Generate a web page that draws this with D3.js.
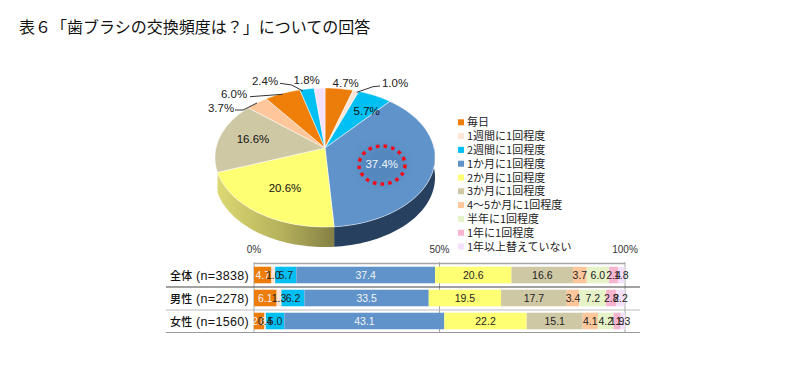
<!DOCTYPE html>
<html lang="ja">
<head>
<meta charset="utf-8">
<script src="https://d3js.org/d3.v7.min.js"></script>
<style>
  body { margin: 0; background: #fff; }
  svg { display: block; }
  text { font-family: "Liberation Sans", "Noto Sans CJK JP", sans-serif; }
  .jp { font-family: "Noto Sans CJK JP", sans-serif; }
</style>
</head>
<body>
<svg width="810" height="383"></svg>
<script>
var titleText = '表６「歯ブラシの交換頻度は？」についての回答';
var categories = ['毎日', '1週間に1回程度', '2週間に1回程度', '1か月に1回程度', '2か月に1回程度',
  '3か月に1回程度', '4～5か月に1回程度', '半年に1回程度', '1年に1回程度', '1年以上替えていない'];
var legendColors = ['#ed7d0a', '#fde6d8', '#00bff3', '#5f93c9', '#ffff73', '#cfc8a5', '#fdc79b', '#e6f3c8', '#f9b4cf', '#f5e0fb'];
var pieValues = [4.7, 1.0, 5.7, 37.4, 20.6, 16.6, 3.7, 6.0, 2.4, 1.8];
var pieColors = ['#ed7d0a', '#fde6d8', '#00bff3', '#5f93c9', '#ffff73', '#cfc8a5', '#fdc79b', '#f07f0a', '#00bff3', '#f5e0fb'];
var rowNames = ['全体', '男性', '女性'];
var rowCounts = ['(n=3838)', '(n=2278)', '(n=1560)'];
var allValues = [4.7, 1.0, 5.7, 37.4, 20.6, 16.6, 3.7, 6.0, 2.4, 1.8];
var maleValues = [6.1, 1.3, 6.2, 33.5, 19.5, 17.7, 3.4, 7.2, 2.8, 2.2];
var femaleValues = [2.8, 0.4, 5.0, 43.1, 22.2, 15.1, 4.1, 4.2, 1.9, 1.3];
var rows = [allValues, maleValues, femaleValues];
var axisTicks = [0, 50, 100];

var svg = d3.select('svg');

svg.append('text').attr('class', 'jp')
  .attr('x', 19).attr('y', 33)
  .attr('font-size', 16).attr('fill', '#111')
  .text(titleText);

// pie, tilted: angles come from d3.pie, then a small perspective map onto the ellipse
var cx = 325, cy = 148, a = 109, b = 68.2, k = 0.1367, depth = 20;
function project(t) {
  var u = Math.sin(t), v = -Math.cos(t), w = 1 - k * v;
  return [cx + a * u / w, cy + b * v / w];
}
function rim(t0, t1) {
  var n = Math.max(2, Math.ceil((t1 - t0) / 0.03));
  return d3.range(n + 1).map(function(i) { return project(t0 + (t1 - t0) * i / n); });
}
var line = d3.line();
var arcs = d3.pie().sort(null)(pieValues);

var defs = svg.append('defs');
var yellowSide = defs.append('linearGradient').attr('id', 'yellowSide');
yellowSide.append('stop').attr('offset', '0%').attr('stop-color', '#dcd873');
yellowSide.append('stop').attr('offset', '55%').attr('stop-color', '#b5b15c');
yellowSide.append('stop').attr('offset', '100%').attr('stop-color', '#858044');
var blurGlow = defs.append('filter').attr('id', 'glow').attr('x', '-30%').attr('y', '-30%').attr('width', '160%').attr('height', '160%');
blurGlow.append('feGaussianBlur').attr('stdDeviation', 4);

// side wall for the blue and yellow slices, the only ones that show on the front
var sides = [[arcs[3], '#27405f'], [arcs[4], 'url(#yellowSide)']];
sides.forEach(function(s) {
  var t0 = Math.max(s[0].startAngle, Math.PI / 2);
  var t1 = Math.min(s[0].endAngle, Math.PI * 1.5);
  var top = rim(t0, t1);
  var low = top.slice().reverse().map(function(p) { return [p[0], p[1] + depth]; });
  svg.append('path')
    .attr('d', line(top.concat(low)) + 'Z')
    .attr('fill', s[1]);
});

svg.append('g').selectAll('path').data(arcs).enter().append('path')
  .attr('d', function(d) {
    return line([[cx, cy]].concat(rim(d.startAngle, d.endAngle))) + 'Z';
  })
  .attr('fill', function(d, i) { return pieColors[i]; })
  .attr('stroke', '#fff').attr('stroke-width', 0.5);

svg.append('ellipse')
  .attr('cx', 382).attr('cy', 165).attr('rx', 23).attr('ry', 19)
  .attr('fill', '#4f82b8').attr('opacity', 0.7).attr('filter', 'url(#glow)');
svg.append('ellipse')
  .attr('cx', 382).attr('cy', 165).attr('rx', 23).attr('ry', 19)
  .attr('fill', 'none').attr('stroke', '#f00d1c').attr('stroke-width', 3.5)
  .attr('stroke-dasharray', '3.5 4.2');

// pie labels and leaders
var pieLabelPos = [[345.7, 87, '#222'], [395, 87, '#222'], [366.7, 115, '#111'], [381.7, 168, '#eef3fa'],
  [285, 192, '#111'], [253, 143, '#111'], [221, 112, '#222'], [234, 98, '#222'], [265, 85, '#222'], [306.7, 84, '#222']];
svg.append('g').selectAll('text').data(pieValues).enter().append('text')
  .attr('x', function(d, i) { return pieLabelPos[i][0]; })
  .attr('y', function(d, i) { return pieLabelPos[i][1]; })
  .attr('text-anchor', 'middle')
  .attr('font-size', 11.5)
  .attr('fill', function(d, i) { return pieLabelPos[i][2]; })
  .text(function(d) { return d.toFixed(1) + '%'; });

var leaders = [
  [[356.7, 92.3], [373, 86.7], [380, 86]],
  [[235, 110], [243, 110], [257, 103]],
  [[250, 96.7], [282.7, 94.3]],
  [[280, 83.3], [291.7, 85], [303, 91]]
];
svg.append('g').selectAll('path').data(leaders).enter().append('path')
  .attr('d', function(d) { return line(d); })
  .attr('fill', 'none').attr('stroke', '#333').attr('stroke-width', 1);

// legend
var legend = svg.append('g').selectAll('g').data(categories).enter().append('g')
  .attr('transform', function(d, i) { return 'translate(458,' + (122.3 + i * 13.8) + ')'; });
legend.append('rect')
  .attr('x', 0).attr('y', -3).attr('width', 6).attr('height', 6)
  .attr('fill', function(d, i) { return legendColors[i]; });
legend.append('text').attr('class', 'jp')
  .attr('x', 9).attr('y', 4)
  .attr('font-size', 11).attr('fill', '#222')
  .text(function(d) { return d; });

// stacked bars
var x = d3.scaleLinear().domain([0, 100]).range([254, 625]);
var y = d3.scaleBand().domain(rowNames).range([263.5, 332.5]).paddingInner(0.28).paddingOuter(0.14);

svg.append('g').selectAll('line').data(axisTicks).enter().append('line')
  .attr('x1', function(d) { return x(d); }).attr('x2', function(d) { return x(d); })
  .attr('y1', 262).attr('y2', 333)
  .attr('stroke', '#a6a6a6').attr('stroke-width', 1);
svg.append('line').attr('x1', x(0)).attr('x2', x(100)).attr('y1', 263.5).attr('y2', 263.5)
  .attr('stroke', '#a6a6a6').attr('stroke-width', 1.4);

svg.append('g').selectAll('text').data(axisTicks).enter().append('text')
  .attr('x', function(d) { return x(d); }).attr('y', 253)
  .attr('text-anchor', 'middle').attr('font-size', 10).attr('fill', '#333')
  .text(function(d) { return d + '%'; });

rows.forEach(function(vals, r) {
  var stack = 0;
  var g = svg.append('g');
  vals.forEach(function(v, i) {
    var x0 = x(stack), x1 = x(stack + v);
    stack += v;
    g.append('rect')
      .attr('x', x0).attr('width', x1 - x0)
      .attr('y', y(rowNames[r])).attr('height', y.bandwidth())
      .attr('fill', legendColors[i]);
  });
  stack = 0;
  vals.forEach(function(v, i) {
    var mid = x(stack + v / 2);
    stack += v;
    g.append('text')
      .attr('x', mid).attr('y', y(rowNames[r]) + y.bandwidth() / 2 + 4)
      .attr('text-anchor', 'middle').attr('font-size', 10.5)
      .attr('fill', (i === 0 || i === 3) ? '#f1f4f8' : '#222')
      .text(v.toFixed(1));
  });
});

var rowText = svg.append('g').selectAll('text').data(rowNames).enter().append('text')
  .attr('x', 170).attr('y', function(d) { return y(d) + y.bandwidth() / 2 + 4.5; })
  .attr('fill', '#111');
rowText.append('tspan').attr('class', 'jp')
  .attr('font-size', 11).attr('font-weight', 500).attr('letter-spacing', 0.3)
  .text(function(d) { return d; });
rowText.append('tspan')
  .attr('dx', 3.5).attr('font-size', 12.5).attr('letter-spacing', 0.3)
  .text(function(d, i) { return rowCounts[i]; });

svg.append('line').attr('x1', 166).attr('x2', 640).attr('y1', 287).attr('y2', 287)
  .attr('stroke', '#444').attr('stroke-width', 1.2);
svg.append('line').attr('x1', 166).attr('x2', 640).attr('y1', 310).attr('y2', 310)
  .attr('stroke', '#bbb').attr('stroke-width', 1);
svg.append('line').attr('x1', 166).attr('x2', 640).attr('y1', 332.5).attr('y2', 332.5)
  .attr('stroke', '#999').attr('stroke-width', 1);
</script>
</body>
</html>
